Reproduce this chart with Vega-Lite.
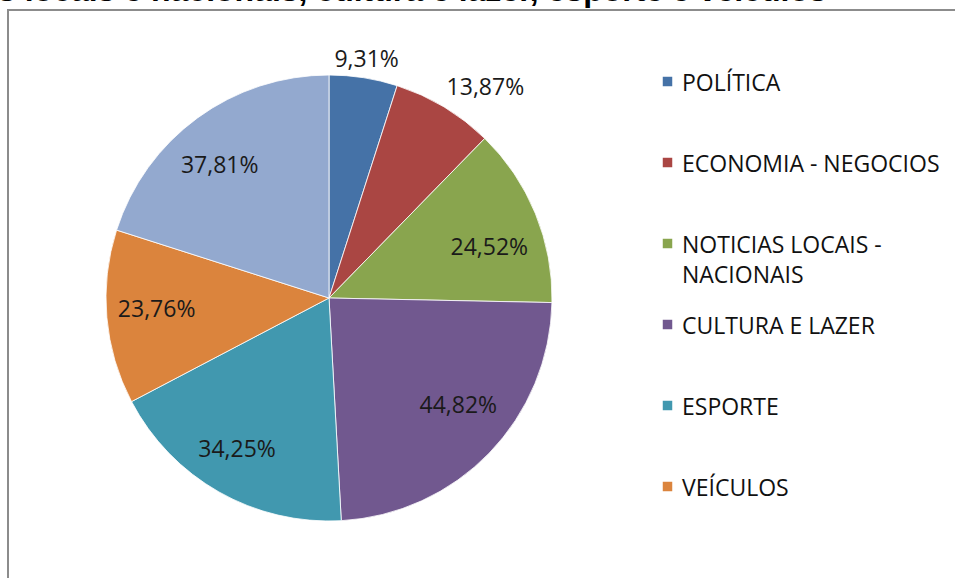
{
  "$schema": "https://vega.github.io/schema/vega-lite/v6.json",
  "width": 642,
  "height": 576,
  "autosize": {"type": "none"},
  "padding": {"left": 8, "top": 10, "right": 305, "bottom": -8},
  "background": "white",
  "view": {"stroke": "#8c8c8c", "strokeWidth": 2, "strokeDash": [642, 1218, 576]},
  "title": {
    "text": "s locais e nacionais, cultura e lazer, esporte e veículos",
    "anchor": "start",
    "frame": "group",
    "dx": -10,
    "dy": 24,
    "offset": 0,
    "font": "Liberation Sans",
    "fontSize": 32,
    "fontWeight": "bold",
    "color": "#000000",
    "baseline": "alphabetic"
  },
  "data": {
    "values": [
      {"ordem": 1, "tema": "POLÍTICA", "valor": 9.31},
      {"ordem": 2, "tema": "ECONOMIA - NEGOCIOS", "valor": 13.87},
      {"ordem": 3, "tema": "NOTICIAS LOCAIS - NACIONAIS", "valor": 24.52},
      {"ordem": 4, "tema": "CULTURA E LAZER", "valor": 44.82},
      {"ordem": 5, "tema": "ESPORTE", "valor": 34.25},
      {"ordem": 6, "tema": "VEÍCULOS", "valor": 23.76},
      {"ordem": 7, "tema": "OUTROS", "valor": 37.81}
    ]
  },
  "transform": [
    {"calculate": "replace(format(datum.valor, '.2f'), '.', ',') + '%'", "as": "rotulo"}
  ],
  "encoding": {
    "theta": {"field": "valor", "type": "quantitative", "stack": true},
    "order": {"field": "ordem", "type": "quantitative"}
  },
  "layer": [
    {
      "mark": {"type": "arc", "outerRadius": 223, "stroke": "#ffffff", "strokeWidth": 0.8},
      "encoding": {
        "color": {
          "field": "tema",
          "type": "nominal",
          "scale": {
            "domain": ["POLÍTICA", "ECONOMIA - NEGOCIOS", "NOTICIAS LOCAIS - NACIONAIS", "CULTURA E LAZER", "ESPORTE", "VEÍCULOS", "OUTROS"],
            "range": ["#4572A7", "#AA4643", "#89A54E", "#71588F", "#4198AF", "#DB843D", "#93A9CF"]
          },
          "legend": {
            "title": null,
            "values": ["POLÍTICA", "ECONOMIA - NEGOCIOS", "NOTICIAS LOCAIS - NACIONAIS", "CULTURA E LAZER", "ESPORTE", "VEÍCULOS"],
            "orient": "none",
            "legendX": 588,
            "legendY": 0,
            "padding": 60,
            "strokeColor": "#8c8c8c",
            "symbolType": "square",
            "symbolSize": 90,
            "symbolStrokeWidth": 0,
            "symbolOpacity": 1,
            "labelFont": "Open Sans",
            "labelFontSize": 23,
            "labelColor": "#111111",
            "labelOffset": 3,
            "labelLimit": 400,
            "labelBaseline": "top",
            "gridAlign": "all",
            "rowPadding": 25,
            "labelExpr": "datum.label == 'NOTICIAS LOCAIS - NACIONAIS' ? ['NOTICIAS LOCAIS -', 'NACIONAIS'] : datum.label",
            "encoding": {
              "labels": {"lineHeight": {"value": 30}, "dy": {"value": -9}},
              "legend": {"stroke": {"value": "#8c8c8c"}, "strokeWidth": {"value": 2}, "strokeDash": {"value": [700, 100000]}}
            }
          }
        }
      }
    },
    {
      "mark": {"type": "text", "radius": 243, "dy": 2, "font": "Open Sans", "fontSize": 23, "fill": "#1a1a1a"},
      "encoding": {"text": {"condition": {"test": "datum.ordem == 1", "field": "rotulo"}, "value": ""}}
    },
    {
      "mark": {"type": "text", "radius": 245, "dx": 30, "font": "Open Sans", "fontSize": 23, "fill": "#1a1a1a"},
      "encoding": {"text": {"condition": {"test": "datum.ordem == 2", "field": "rotulo"}, "value": ""}}
    },
    {
      "mark": {"type": "text", "radius": 170, "dx": 3, "dy": 14, "font": "Open Sans", "fontSize": 23, "fill": "#1a1a1a"},
      "encoding": {"text": {"condition": {"test": "datum.ordem == 3", "field": "rotulo"}, "value": ""}}
    },
    {
      "mark": {"type": "text", "radius": 170, "dx": 7, "dy": -10, "font": "Open Sans", "fontSize": 23, "fill": "#1a1a1a"},
      "encoding": {"text": {"condition": {"test": "datum.ordem == 4", "field": "rotulo"}, "value": ""}}
    },
    {
      "mark": {"type": "text", "radius": 170, "dx": -8, "dy": 4, "font": "Open Sans", "fontSize": 23, "fill": "#1a1a1a"},
      "encoding": {"text": {"condition": {"test": "datum.ordem == 5", "field": "rotulo"}, "value": ""}}
    },
    {
      "mark": {"type": "text", "radius": 170, "dx": -3, "dy": -3, "font": "Open Sans", "fontSize": 23, "fill": "#1a1a1a"},
      "encoding": {"text": {"condition": {"test": "datum.ordem == 6", "field": "rotulo"}, "value": ""}}
    },
    {
      "mark": {"type": "text", "radius": 170, "dx": -9, "dy": 5, "font": "Open Sans", "fontSize": 23, "fill": "#1a1a1a"},
      "encoding": {"text": {"condition": {"test": "datum.ordem == 7", "field": "rotulo"}, "value": ""}}
    }
  ]
}
